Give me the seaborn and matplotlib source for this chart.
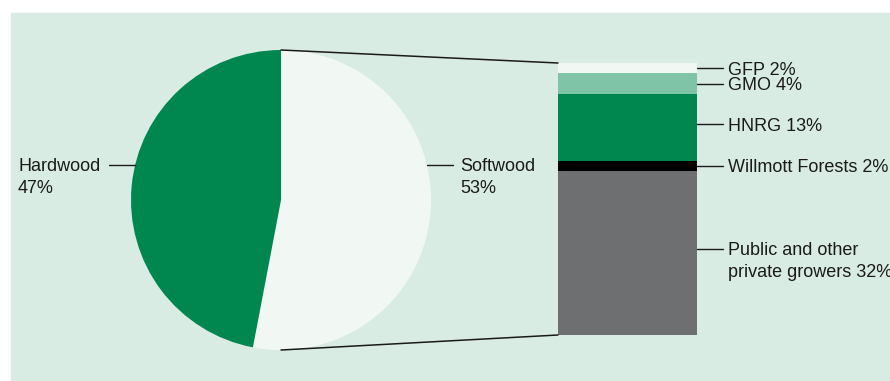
import matplotlib
matplotlib.use("Agg")
import matplotlib.pyplot as plt
from matplotlib.patches import Rectangle, ConnectionPatch
import numpy as np
import pandas as pd
import seaborn as sns

# ---- data ----
pie_labels = ["Softwood", "Hardwood"]
pie_values = [53, 47]
bar_labels = ["Public and other\nprivate growers", "Willmott Forests", "HNRG", "GMO", "GFP"]
bar_values = [32, 2, 13, 4, 2]  # bottom -> top, sums to Softwood share

# ---- styles ----
BG = "#d9ece3"
DARK = "#00874f"
PALE = "#f1f8f4"
pie_colors = [PALE, DARK]
bar_colors = ["#6e6f71", "#000000", DARK, "#80c4a7", PALE]
label_nudge_px = [4, 0, 3, 0, 0]  # vertical leader-line nudges (layout only)
TXT = "#1a1a1a"

sns.set_theme(style="white")
plt.rcParams["font.family"] = ["Liberation Sans", "DejaVu Sans"]
FS = 13

W, H = 890, 381
fig = plt.figure(figsize=(W / 100, H / 100), dpi=100)
fig.patch.set_facecolor("white")
fig.patches.append(Rectangle((11 / W, 0), 1 - 11 / W, 1 - 13 / H,
                             transform=fig.transFigure, color=BG, zorder=-10))

# ---- pie ----
cx, cy, r = 281, 200, 150
ax_pie = fig.add_axes([(cx - r) / W, (H - cy - r) / H, 2 * r / W, 2 * r / H])
ax_pie.pie(pie_values, colors=pie_colors, startangle=90, counterclock=False,
           radius=1, wedgeprops=dict(linewidth=0))
ax_pie.set_xlim(-1, 1)
ax_pie.set_ylim(-1, 1)
ax_pie.set_aspect("equal")
ax_pie.axis("off")

def px(v):
    return v / r  # pixel distance -> pie data units

label_y = px(cy - 165)
edge_x = np.sqrt(1 - label_y ** 2)
LINE_H = 22
BASE = -6.5
# Softwood label (right)
ax_pie.plot([edge_x, px(453 - cx)], [label_y, label_y], color=TXT, lw=1.0, clip_on=False)
for i, t in enumerate([pie_labels[0], f"{pie_values[0]}%"]):
    ax_pie.annotate(t, xy=(px(460 - cx), label_y), xycoords="data",
                    xytext=(0, BASE - i * LINE_H), textcoords="offset pixels",
                    ha="left", va="baseline", fontsize=FS, color=TXT,
                    annotation_clip=False)
# Hardwood label (left)
ax_pie.plot([-edge_x, px(109 - cx)], [label_y, label_y], color=TXT, lw=1.0, clip_on=False)
for i, t in enumerate([pie_labels[1], f"{pie_values[1]}%"]):
    ax_pie.annotate(t, xy=(px(18 - cx), label_y), xycoords="data",
                    xytext=(0, BASE - i * LINE_H), textcoords="offset pixels",
                    ha="left", va="baseline", fontsize=FS, color=TXT,
                    annotation_clip=False)

# ---- stacked bar ----
bx0, bx1, by0, by1 = 558, 697, 63, 335
bw, bh = bx1 - bx0, by1 - by0
ax_bar = fig.add_axes([bx0 / W, (H - by1) / H, bw / W, bh / H])
cum = np.cumsum(bar_values)
total = cum[-1]
for i in range(len(bar_values) - 1, -1, -1):
    df = pd.DataFrame({"cat": [""], "val": [cum[i]]})
    sns.barplot(data=df, x="cat", y="val", color=bar_colors[i], saturation=1,
                width=1, linewidth=0, ax=ax_bar)
ax_bar.set_xlim(-0.5, 0.5)
ax_bar.set_ylim(0, total)
ax_bar.axis("off")

ypx = total / bh  # data units per pixel
bottoms = cum - np.array(bar_values)
for lab, v, b, nd in zip(bar_labels, bar_values, bottoms, label_nudge_px):
    yl = b + v / 2 + nd * ypx
    ax_bar.plot([0.5, 0.5 + 26 / bw], [yl, yl], color=TXT, lw=1.0, clip_on=False)
    lines = lab.split("\n")
    lines[-1] = f"{lines[-1]} {v}%"
    for j, t in enumerate(lines):
        ax_bar.annotate(t, xy=(0.5, yl), xycoords="data",
                        xytext=(31, BASE - j * LINE_H), textcoords="offset pixels",
                        ha="left", va="baseline", fontsize=FS, color=TXT,
                        annotation_clip=False)

# ---- connectors ----
for ya, yb in [(1, total), (-1, 0)]:
    con = ConnectionPatch(xyA=(0, ya), coordsA=ax_pie.transData,
                          xyB=(-0.5, yb), coordsB=ax_bar.transData,
                          color=TXT, lw=1.1)
    fig.add_artist(con)

fig.savefig("out.png", dpi=100, facecolor="white")
